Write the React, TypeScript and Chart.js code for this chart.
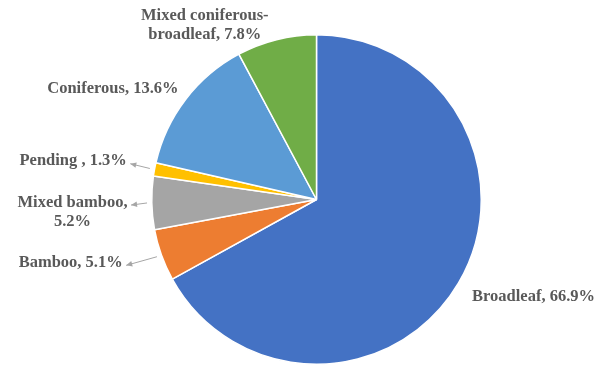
import React, { useEffect, useRef } from "react";
import { Chart, registerables } from "chart.js";

Chart.register(...registerables);

const CATEGORIES = ["Broadleaf", "Bamboo", "Mixed bamboo", "Pending ", "Coniferous", "Mixed coniferous-broadleaf"];
const VALUES = [66.9, 5.1, 5.2, 1.3, 13.6, 7.8];
const COLORS = ["#4472C4", "#ED7D31", "#A5A5A5", "#FFC000", "#5B9BD5", "#70AD47"];

type Align = "left" | "right" | "center";
const LABEL_LAYOUT: { align: Align; dx: number; dy: number; wrap: number; leader: boolean }[] = [
  { align: "left", dx: 13, dy: 17, wrap: 1000, leader: false },
  { align: "right", dx: -38, dy: 11.5, wrap: 1000, leader: true },
  { align: "center", dx: -78.5, dy: 3.7, wrap: 120, leader: true },
  { align: "right", dx: -27, dy: -4, wrap: 1000, leader: true },
  { align: "right", dx: -6.5, dy: -6.5, wrap: 1000, leader: false },
  { align: "center", dx: -71.5, dy: -18.5, wrap: 130, leader: false },
];

const FONT = 'bold 16.5px "Liberation Serif", "Times New Roman", serif';
const TEXT_COLOR = "#595959";
const LEADER_COLOR = "#A6A6A6";
const LINE_HEIGHT = 19;

function wrapText(ctx: CanvasRenderingContext2D, text: string, maxW: number): string[] {
  const tokens = text.split(/(?<=[\s-])/);
  const lines: string[] = [];
  let line = "";
  for (const t of tokens) {
    const cand = line + t;
    if (line && ctx.measureText(cand.trimEnd()).width > maxW) {
      lines.push(line.trimEnd());
      line = t;
    } else {
      line = cand;
    }
  }
  if (line) lines.push(line.trimEnd());
  return lines;
}

const labelPlugin = {
  id: "pieLabels",
  afterDatasetsDraw(chart: any) {
    const ctx: CanvasRenderingContext2D = chart.ctx;
    const meta = chart.getDatasetMeta(0);
    ctx.save();
    ctx.font = FONT;
    ctx.textBaseline = "alphabetic";
    meta.data.forEach((arc: any, i: number) => {
      const { x, y, startAngle, endAngle, outerRadius } = arc.getProps(
        ["x", "y", "startAngle", "endAngle", "outerRadius"],
        true
      );
      const mid = (startAngle + endAngle) / 2;
      const R = outerRadius + 0.75;
      const ox = x + Math.cos(mid) * R;
      const oy = y + Math.sin(mid) * R;
      const lay = LABEL_LAYOUT[i];
      const text = `${CATEGORIES[i]}, ${VALUES[i]}%`;
      const lines = wrapText(ctx, text, lay.wrap);
      const ax = ox + lay.dx;
      const ay = oy + lay.dy;
      ctx.fillStyle = TEXT_COLOR;
      ctx.textAlign = lay.align;
      lines.forEach((ln, k) => {
        ctx.fillText(ln, ax, ay + k * LINE_HEIGHT);
      });
      if (lay.leader) {
        const w0 = ctx.measureText(lines[0]).width;
        let right = ax;
        if (lay.align === "center") right = ax + w0 / 2;
        else if (lay.align === "left") right = ax + w0;
        const tipX = right + 3.5;
        const tipY = ay - 1.5;
        const sx = x + Math.cos(mid) * (R + 4);
        const sy = y + Math.sin(mid) * (R + 4);
        ctx.strokeStyle = LEADER_COLOR;
        ctx.fillStyle = LEADER_COLOR;
        ctx.lineWidth = 1;
        ctx.beginPath();
        ctx.moveTo(sx, sy);
        ctx.lineTo(tipX, tipY);
        ctx.stroke();
        const ang = Math.atan2(tipY - sy, tipX - sx);
        const L = 6;
        const H = 2.8;
        const bx = tipX - Math.cos(ang) * L;
        const by = tipY - Math.sin(ang) * L;
        ctx.beginPath();
        ctx.moveTo(tipX, tipY);
        ctx.lineTo(bx + Math.sin(ang) * H, by - Math.cos(ang) * H);
        ctx.lineTo(bx - Math.sin(ang) * H, by + Math.cos(ang) * H);
        ctx.closePath();
        ctx.fill();
      }
    });
    ctx.restore();
  },
};

export default function App() {
  const ref = useRef<HTMLCanvasElement | null>(null);
  useEffect(() => {
    if (!ref.current) return;
    const chart = new Chart(ref.current, {
      type: "pie",
      data: {
        labels: CATEGORIES,
        datasets: [
          {
            data: VALUES,
            backgroundColor: COLORS,
            borderColor: "#FFFFFF",
            borderWidth: 1.5,
          },
        ],
      },
      options: {
        responsive: false,
        animation: false,
        devicePixelRatio: 1,
        layout: { padding: { left: 151, right: 113, top: 34, bottom: 0 } },
        plugins: {
          legend: { display: false },
          tooltip: { enabled: false },
        },
      },
      plugins: [labelPlugin],
    } as any);
    return () => chart.destroy();
  }, []);
  return (
    <div style={{ position: "absolute", left: 0, top: 0, width: 595, height: 365, background: "#fff" }}>
      <canvas ref={ref} width={595} height={365} style={{ width: 595, height: 365 }} />
    </div>
  );
}
